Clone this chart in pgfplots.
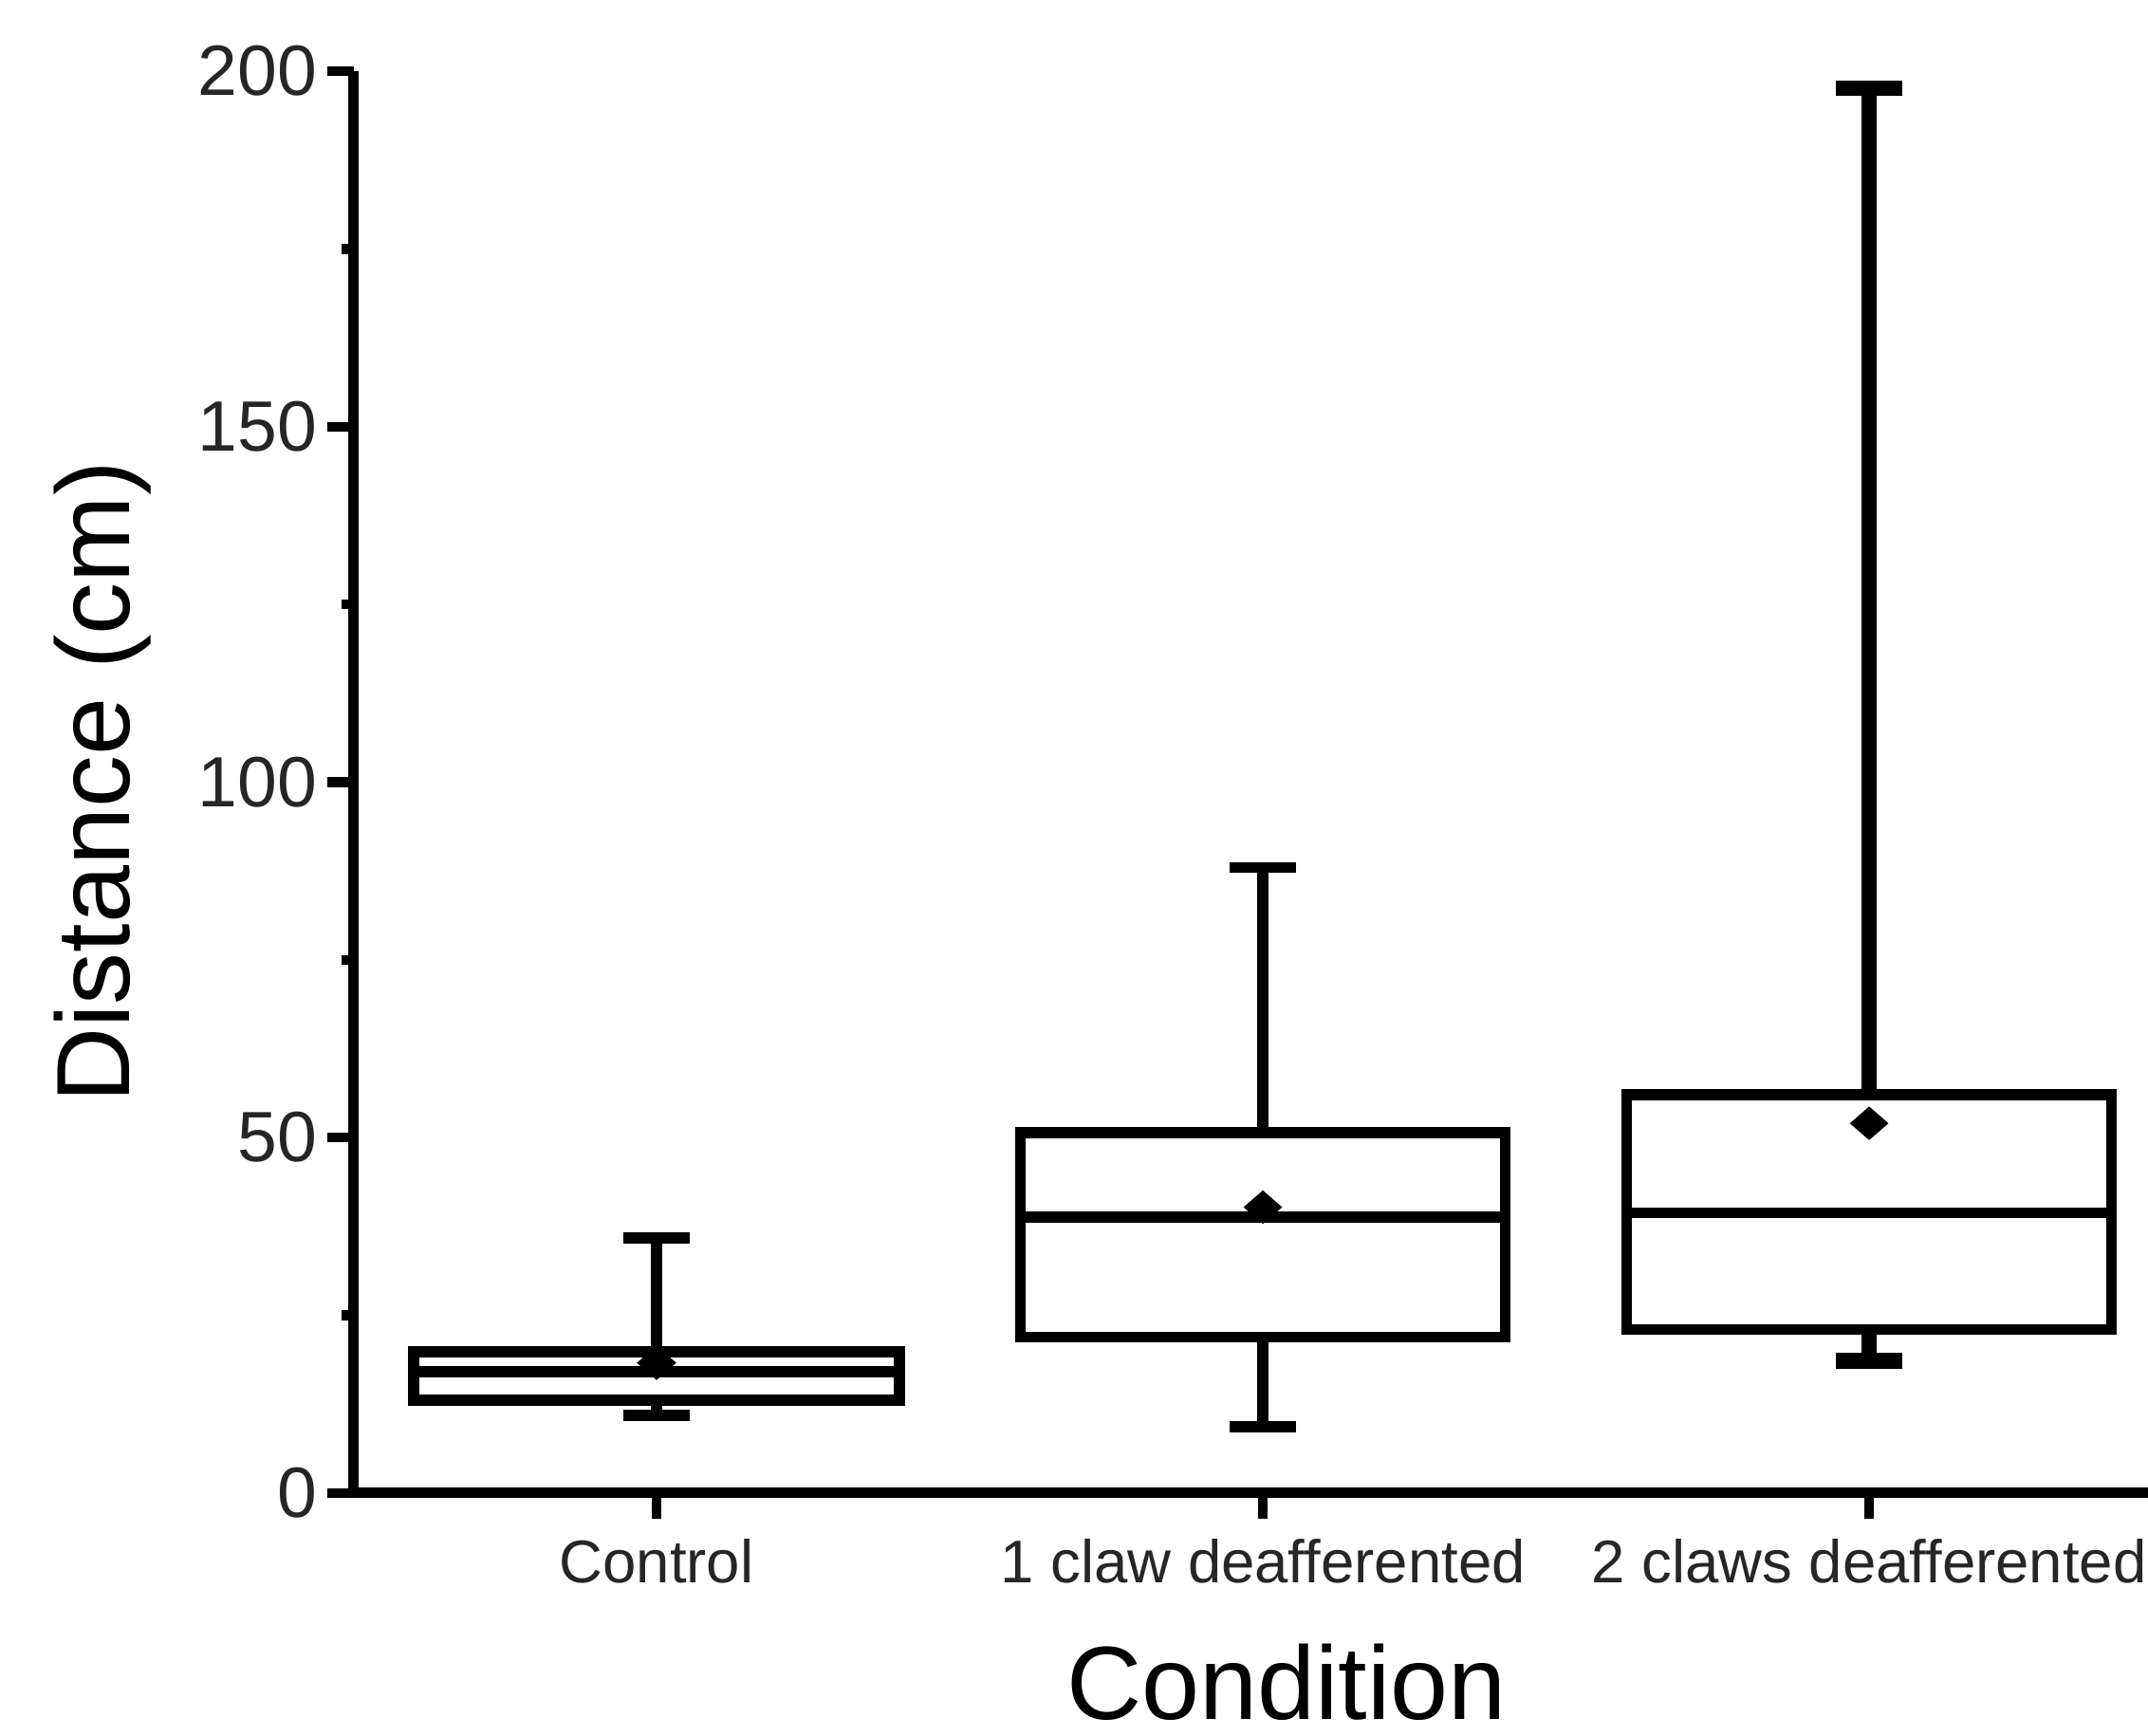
\documentclass[border=0pt]{standalone}
\usepackage{fontspec}
\setmainfont{Liberation Sans}
\usepackage{pgfplots}
\pgfplotsset{compat=1.18}
\usepgfplotslibrary{statistics}
\pgfdeclareplotmark{wdiamond}{%
  \pgfpathmoveto{\pgfqpoint{0pt}{0.87\pgfplotmarksize}}%
  \pgfpathlineto{\pgfqpoint{\pgfplotmarksize}{0pt}}%
  \pgfpathlineto{\pgfqpoint{0pt}{-0.87\pgfplotmarksize}}%
  \pgfpathlineto{\pgfqpoint{-\pgfplotmarksize}{0pt}}%
  \pgfpathclose\pgfusepathqfillstroke}
\begin{document}
\begin{tikzpicture}
\begin{axis}[
  scale only axis,
  width=327.5pt, height=259.5pt,
  xmin=0.5, xmax=3.46,
  ymin=0, ymax=200,
  axis lines*=left,
  axis line style={line width=1.9pt, -},
  tick align=outside,
  major tick length=4.7pt,
  minor tick length=2.2pt,
  every tick/.style={black, line width=1.8pt},
  ytick={0,50,100,150,200},
  minor y tick num=1,
  xtick={1,2,3},
  xticklabels={Control, 1 claw deafferented, 2 claws deafferented},
  /pgf/number format/assume math mode=true,
  yticklabel style={font=\fontsize{13}{13}\selectfont, inner sep=0pt, xshift=-1.75pt, text=black!85},
  xticklabel style={font=\fontsize{11}{11}\selectfont, anchor=base, inner sep=0pt, yshift=-11.75pt, text=black!85},
  xlabel={Condition},
  ylabel={Distance (cm)},
  every axis x label/.style={at={(rel axis cs:0.52,0)}, anchor=base, yshift=-41.25pt, font=\fontsize{19}{19}\selectfont},
  every axis y label/.style={at={(rel axis cs:0,0.5)}, rotate=90, anchor=center, yshift=45.75pt, font=\fontsize{19}{19}\selectfont},
  boxplot/draw direction=y,
  boxplot/box extend=0.8,
  boxplot/whisker extend=0.11,
  boxplot/every average/.style={/tikz/mark=wdiamond, /tikz/mark options={fill=black, line width=0.4pt, solid, mark size=4.3pt}},
  clip=false,
]
\addplot[black, line width=2.1pt, boxplot prepared={draw position=1,
  lower whisker=10.9, lower quartile=13.0, median=17.0, upper quartile=19.9, upper whisker=35.9, average=18.3}] coordinates {};
\addplot[black, line width=2.0pt, boxplot prepared={draw position=2,
  lower whisker=9.3, lower quartile=21.9, median=38.8, upper quartile=50.7, upper whisker=88.0, average=40.2}] coordinates {};
\addplot[black, line width=2.0pt, boxplot prepared={draw position=3,
  lower whisker=18.6, lower quartile=23.0, median=39.4, upper quartile=56.0, upper whisker=197.6, average=52.0,
  every whisker/.style={line width=2.9pt}}] coordinates {};
\end{axis}
\pgfresetboundingbox
\path[use as bounding box] ([xshift=-64.5pt,yshift=13pt]current axis.north west) rectangle ([yshift=-44.25pt]current axis.south east);
\end{tikzpicture}
\end{document}
